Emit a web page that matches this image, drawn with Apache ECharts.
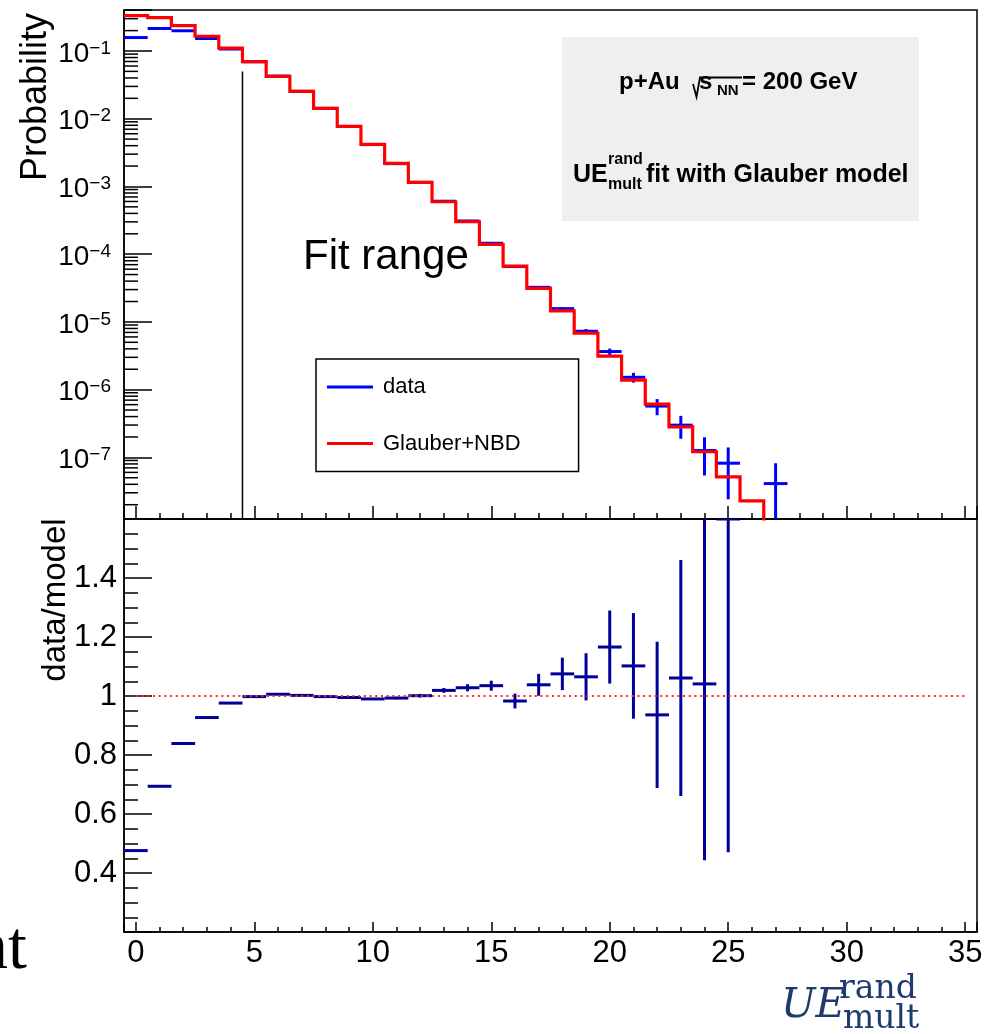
<!DOCTYPE html>
<html>
<head>
<meta charset="utf-8">
<script src="https://cdn.jsdelivr.net/npm/echarts@6/dist/echarts.min.js"></script>
<style>html,body{margin:0;padding:0;background:#fff}#c{width:984px;height:1034px}</style>
</head>
<body>
<div id="c"></div>
<script>
// ---------------- data ----------------
const binCenters = [0,1,2,3,4,5,6,7,8,9,10,11,12,13,14,15,16,17,18,19,20,21,22,23,24,25,26,27];
// Glauber+NBD model (red histogram)
const modelValues = [0.332,0.310,0.237,0.165,0.110,0.0695,0.0423,0.0254,0.01425,0.00773,0.00419,0.00219,0.00115,
  5.94e-4,3.01e-4,1.40e-4,6.67e-5,3.12e-5,1.46e-5,6.84e-6,3.13e-6,1.38e-6,6.11e-7,2.82e-7,1.21e-7,5.15e-8,2.28e-8,9e-9];
// data (blue points)
const dataValues = [0.158,0.215,0.199,0.153,0.107,0.0694,0.0426,0.0254,0.01422,0.00769,0.00415,0.00217,0.00115,
  6.05e-4,3.09e-4,1.45e-4,6.56e-5,3.24e-5,1.57e-5,7.28e-6,3.65e-6,1.52e-6,5.72e-7,2.99e-7,1.26e-7,8.2e-8,null,4.1e-8];
const dataErrors = [8.0e-5,9.4e-5,9.0e-5,7.9e-5,6.6e-5,5.3e-5,4.2e-5,3.2e-5,2.4e-5,1.8e-5,1.3e-5,9.4e-6,6.9e-6,
  5.0e-6,3.6e-6,2.4e-6,1.64e-6,1.15e-6,8.0e-7,5.5e-7,3.9e-7,2.5e-7,1.53e-7,1.11e-7,7.2e-8,5.8e-8,null,4.1e-8];
// data/model ratio (bins 0..25)
const ratioValues = [0.476,0.694,0.839,0.927,0.976,0.998,1.006,1.002,0.998,0.995,0.990,0.993,1.001,
  1.019,1.028,1.035,0.983,1.038,1.075,1.065,1.166,1.102,0.936,1.061,1.041,1.6];
const ratioErrors = [0.0003,0.0003,0.0004,0.0005,0.0006,0.0008,0.001,0.0013,0.0017,0.0023,0.003,0.0043,0.006,
  0.008,0.012,0.017,0.025,0.037,0.055,0.08,0.124,0.179,0.248,0.40,0.598,1.13];
// axis ticks / labels
const xTickLabels = ['0','5','10','15','20','25','30','35'];
const logDecades = [-8,-7,-6,-5,-4,-3,-2,-1];
const logLabelExponents = [-7,-6,-5,-4,-3,-2,-1];
const logMinorMultipliers = [2,3,4,5,6,7,8,9];
const ratioTickLabels = ['0.4','0.6','0.8','1','1.2','1.4'];
const fitRangeEdge = 4.5;
const fitRangeLineTop = 0.05;
const yTopMin = 1.23e-8, yTopMax = 0.403;
const ratioMin = 0.2, ratioMax = 1.6;
const ratioRefLine = [[0,1],[35,1]];

// ---------------- build series data ----------------
const modelSteps = [];
binCenters.forEach((c, i) => {
  if (modelValues[i] != null) { modelSteps.push([c - 0.5, modelValues[i]]); modelSteps.push([c + 0.5, modelValues[i]]); }
});
const dataPoints = [];
binCenters.forEach((c, i) => { if (dataValues[i] != null) dataPoints.push([c, dataValues[i], dataErrors[i]]); });
const ratioPoints = ratioValues.map((r, i) => [binCenters[i], r, ratioErrors[i]]);
const logMinorTicks = [];
logDecades.forEach(d => logMinorMultipliers.forEach(m => {
  const v = m * Math.pow(10, d);
  if (v > yTopMin && v < yTopMax) logMinorTicks.push([-0.5, v]);
}));

const FONT = "'Liberation Sans', Arial, Helvetica, sans-serif";
const SERIF = "'DejaVu Serif', serif";

function errRenderer(color, lw, logAxis) {
  return function (params, api) {
    const x = api.value(0), y = api.value(1), e = api.value(2);
    const l = api.coord([x - 0.5, y]), r = api.coord([x + 0.5, y]);
    let lo = y - e; if (logAxis && lo <= 0) lo = 1e-14;
    const t = api.coord([x, y + e]), b = api.coord([x, lo]);
    const st = { stroke: color, lineWidth: lw };
    return { type: 'group', children: [
      { type: 'line', shape: { x1: l[0], y1: l[1], x2: r[0], y2: r[1] }, style: st },
      { type: 'line', shape: { x1: t[0], y1: t[1], x2: b[0], y2: b[1] }, style: st }
    ]};
  };
}

function isPow10(v, list) {
  const e = Math.log10(v);
  const re = Math.round(e);
  return Math.abs(e - re) < 1e-6 && list.indexOf(re) >= 0 ? re : null;
}

function txt(x, y, text, size, opts) {
  opts = opts || {};
  const align = opts.align || 'left';
  return { type: 'text', x: x, y: y, rotation: opts.rotation || 0,
    style: { text: text, fontSize: size, fontWeight: opts.bold ? 'bold' : 'normal', fontStyle: opts.italic ? 'italic' : 'normal',
      fontFamily: opts.family || FONT, fill: opts.color || '#000',
      align: align, textAlign: align, verticalAlign: 'middle', textVerticalAlign: 'middle' } };
}

const chart = echarts.init(document.getElementById('c'));
const option = {
  animation: false,
  backgroundColor: '#fff',
  grid: [
    { left: 124, top: 10, width: 853, height: 509, show: true, borderColor: '#000', borderWidth: 1.5, backgroundColor: 'transparent', outerBoundsMode: 'none', containLabel: false },
    { left: 124, top: 519, width: 853, height: 413, show: true, borderColor: '#000', borderWidth: 1.5, backgroundColor: 'transparent', outerBoundsMode: 'none', containLabel: false }
  ],
  xAxis: [
    { type: 'value', gridIndex: 0, min: -0.5, max: 35.5, minInterval: 5, maxInterval: 5,
      axisLine: { show: true, onZero: false, lineStyle: { color: '#000', width: 1.5 } },
      axisTick: { show: true, inside: true, length: 13, lineStyle: { color: '#000', width: 1.5 } },
      minorTick: { show: true, splitNumber: 5, length: 6, lineStyle: { color: '#000', width: 1.5 } },
      axisLabel: { show: false }, splitLine: { show: false }, minorSplitLine: { show: false } },
    { type: 'value', gridIndex: 1, min: -0.5, max: 35.5, minInterval: 5, maxInterval: 5,
      axisLine: { show: true, onZero: false, lineStyle: { color: '#000', width: 1.5 } },
      axisTick: { show: true, inside: true, length: 10, lineStyle: { color: '#000', width: 1.5 } },
      minorTick: { show: true, splitNumber: 5, length: 5, lineStyle: { color: '#000', width: 1.5 } },
      axisLabel: { show: true, margin: 6, fontSize: 31, fontFamily: FONT, color: '#000', hideOverlap: false,
        formatter: v => { const s = String(Math.round(v * 1000) / 1000); return xTickLabels.indexOf(s) >= 0 ? s : ''; } },
      splitLine: { show: false }, minorSplitLine: { show: false } }
  ],
  yAxis: [
    { type: 'log', logBase: 10, gridIndex: 0, min: yTopMin, max: yTopMax,
      axisLine: { show: true, onZero: false, lineStyle: { color: '#000', width: 1.5 } },
      axisTick: { show: true, inside: true, length: 28, lineStyle: { color: '#000', width: 1.5 } },
      minorTick: { show: false }, splitLine: { show: false },
      axisLabel: { show: true, margin: 13, color: '#000', fontFamily: FONT, hideOverlap: false, padding: [6, 0, 0, 0],
        formatter: v => { const e = isPow10(v, logLabelExponents); return e == null ? '' : '{b|10}{s|\u2212' + Math.abs(e) + '}'; },
        rich: {
          b: { fontSize: 28, fontFamily: FONT, color: '#000', lineHeight: 30 },
          s: { fontSize: 19, fontFamily: FONT, color: '#000', lineHeight: 18, verticalAlign: 'top' }
        } } },
    { type: 'value', gridIndex: 1, min: ratioMin, max: ratioMax, interval: 0.2,
      axisLine: { show: true, onZero: false, lineStyle: { color: '#000', width: 1.5 } },
      axisTick: { show: true, inside: true, length: 28, lineStyle: { color: '#000', width: 1.5 } },
      minorTick: { show: true, splitNumber: 4, length: 14, lineStyle: { color: '#000', width: 1.5 } },
      splitLine: { show: false }, minorSplitLine: { show: false },
      axisLabel: { show: true, margin: 7, fontSize: 31, fontFamily: FONT, color: '#000', hideOverlap: false,
        formatter: v => { const s = String(Math.round(v * 1000) / 1000); return ratioTickLabels.indexOf(s) >= 0 ? s : ''; } } }
  ],
  legend: {
    left: 316, top: 359, orient: 'vertical', selectedMode: false,
    backgroundColor: '#fff', borderColor: '#000', borderWidth: 1.5, borderRadius: 0,
    padding: [17, 58, 17, 11], itemGap: 34.6, itemWidth: 46, itemHeight: 3,
    textStyle: { fontSize: 22, fontFamily: FONT, color: '#000', lineHeight: 22, padding: [0, 0, 0, 5] },
    data: [{ name: 'data', icon: 'rect' }, { name: 'Glauber+NBD', icon: 'rect' }]
  },
  series: [
    { name: 'log minor ticks', type: 'custom', xAxisIndex: 0, yAxisIndex: 0, clip: true, silent: true,
      data: logMinorTicks,
      renderItem: (p, api) => { const c = api.coord([api.value(0), api.value(1)]);
        return { type: 'line', shape: { x1: c[0], y1: c[1], x2: c[0] + 14, y2: c[1] }, style: { stroke: '#000', lineWidth: 1.5 } }; } },
    { name: 'fit range', type: 'line', xAxisIndex: 0, yAxisIndex: 0, symbol: 'none', silent: true,
      data: [[fitRangeEdge, yTopMin], [fitRangeEdge, fitRangeLineTop]],
      lineStyle: { color: '#000', width: 1.5 }, itemStyle: { color: '#000' } },
    { name: 'data', type: 'custom', xAxisIndex: 0, yAxisIndex: 0, clip: true, z: 3,
      itemStyle: { color: '#0000ff' }, data: dataPoints, renderItem: errRenderer('#0000ff', 3, true) },
    { name: 'Glauber+NBD', type: 'line', xAxisIndex: 0, yAxisIndex: 0, symbol: 'none', clip: true, z: 4,
      data: modelSteps, lineStyle: { color: '#ff0000', width: 3.2, join: 'miter' }, itemStyle: { color: '#ff0000' } },
    { name: 'unity', type: 'line', xAxisIndex: 1, yAxisIndex: 1, symbol: 'none', silent: true,
      data: ratioRefLine, lineStyle: { color: '#ff2a2a', width: 2, type: [2, 3.7] }, itemStyle: { color: '#ff2a2a' } },
    { name: 'ratio', type: 'custom', xAxisIndex: 1, yAxisIndex: 1, clip: true, z: 3,
      itemStyle: { color: '#000099' }, data: ratioPoints, renderItem: errRenderer('#000099', 3, false) }
  ],
  graphic: [
    { type: 'rect', z: -1, shape: { x: 562, y: 37, width: 357, height: 184 }, style: { fill: '#efefef' } },
    // pave line 1
    txt(619, 82, 'p+Au', 24, { bold: true }),
    { type: 'polyline', shape: { points: [[693, 84], [696.5, 97], [700, 77.5], [742, 77.5]] }, style: { stroke: '#000', lineWidth: 1.8, fill: null } },
    txt(699, 82, 's', 24, { bold: true }),
    txt(717, 91, 'NN', 15, { bold: true }),
    txt(742, 82, '= 200 GeV', 24, { bold: true }),
    // pave line 2
    txt(573, 175, 'UE', 25, { bold: true }),
    txt(608, 160, 'rand', 16, { bold: true }),
    txt(608, 185, 'mult', 16, { bold: true }),
    txt(646, 175, 'fit with Glauber model', 25, { bold: true }),
    // Fit range
    txt(303, 257, 'Fit range', 42),
    // axis titles
    txt(36, 97, 'Probability', 36, { align: 'center', rotation: Math.PI / 2 }),
    txt(56, 600, 'data/model', 33, { align: 'center', rotation: Math.PI / 2 }),
    txt(781, 1006, 'UE', 41, { italic: true, family: SERIF, color: '#1f3a6e' }),
    txt(839, 989, 'rand', 33, { family: SERIF, color: '#1f3a6e' }),
    txt(843, 1019, 'mult', 33, { family: SERIF, color: '#1f3a6e' }),
    // slide fragment at left
    txt(27, 950, 'nt', 68, { align: 'right', family: "'Liberation Serif', serif" })
  ]
};
chart.setOption(option);
</script>
</body>
</html>
